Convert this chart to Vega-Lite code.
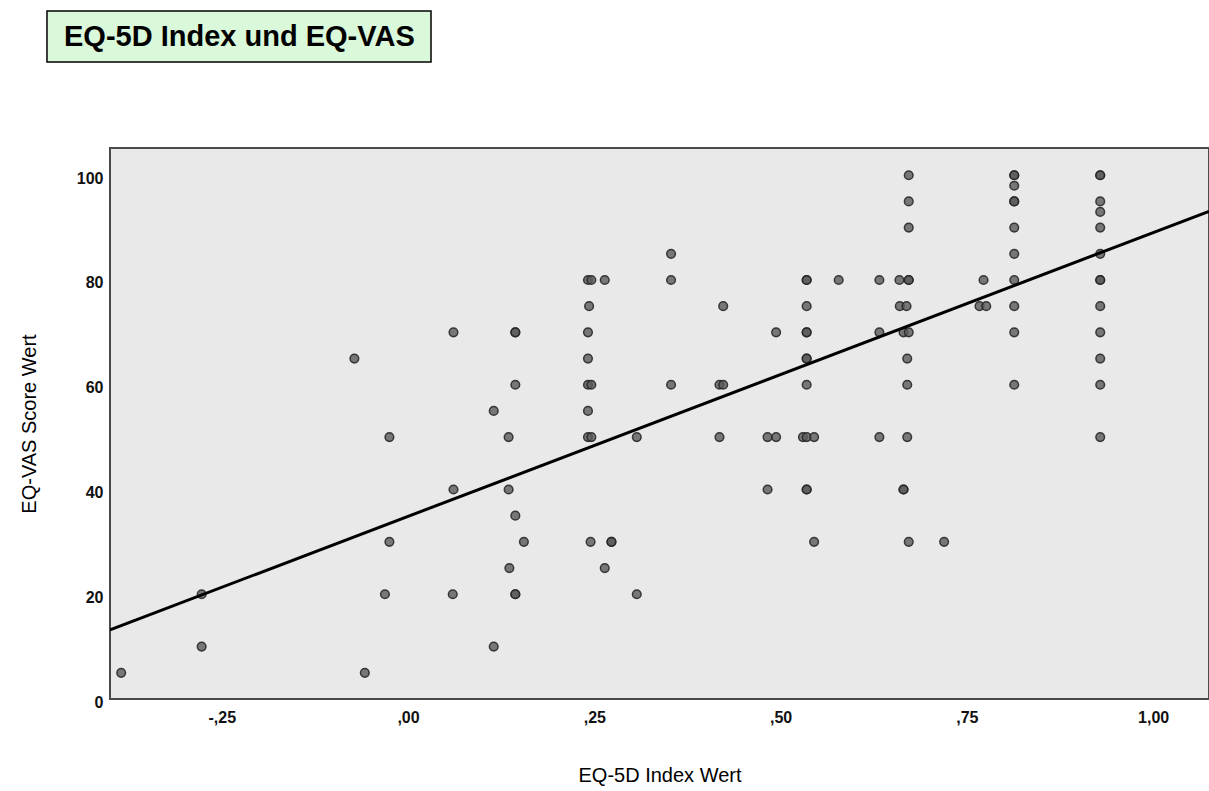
{
  "$schema": "https://vega.github.io/schema/vega-lite/v6.json",
  "background": "white",
  "padding": {"left": 18, "top": 10, "right": 0, "bottom": 0},
  "spacing": 84,
  "config": {"font": "Liberation Sans"},
  "datasets": {
    "titleData": [{"t": "EQ-5D Index und EQ-VAS"}],
    "fit": [{"index": -0.4, "vas": 13.2}, {"index": 1.075, "vas": 93.1}],
    "pts": [
      {"index": -0.385, "vas": 5},
      {"index": -0.277, "vas": 20},
      {"index": -0.277, "vas": 10},
      {"index": -0.072, "vas": 65},
      {"index": -0.058, "vas": 5},
      {"index": -0.025, "vas": 50},
      {"index": -0.025, "vas": 30},
      {"index": -0.031, "vas": 20},
      {"index": 0.061, "vas": 70},
      {"index": 0.061, "vas": 40},
      {"index": 0.060, "vas": 20},
      {"index": 0.115, "vas": 55},
      {"index": 0.115, "vas": 10},
      {"index": 0.135, "vas": 50},
      {"index": 0.135, "vas": 40},
      {"index": 0.136, "vas": 25},
      {"index": 0.144, "vas": 70},
      {"index": 0.144, "vas": 70},
      {"index": 0.144, "vas": 60},
      {"index": 0.144, "vas": 35},
      {"index": 0.144, "vas": 20},
      {"index": 0.144, "vas": 20},
      {"index": 0.1555, "vas": 30},
      {"index": 0.2415, "vas": 80},
      {"index": 0.246, "vas": 80},
      {"index": 0.264, "vas": 80},
      {"index": 0.243, "vas": 75},
      {"index": 0.2415, "vas": 70},
      {"index": 0.2415, "vas": 65},
      {"index": 0.2415, "vas": 60},
      {"index": 0.246, "vas": 60},
      {"index": 0.2415, "vas": 55},
      {"index": 0.2415, "vas": 50},
      {"index": 0.246, "vas": 50},
      {"index": 0.245, "vas": 30},
      {"index": 0.273, "vas": 30},
      {"index": 0.273, "vas": 30},
      {"index": 0.264, "vas": 25},
      {"index": 0.307, "vas": 50},
      {"index": 0.307, "vas": 20},
      {"index": 0.353, "vas": 85},
      {"index": 0.353, "vas": 80},
      {"index": 0.353, "vas": 60},
      {"index": 0.418, "vas": 60},
      {"index": 0.423, "vas": 60},
      {"index": 0.423, "vas": 75},
      {"index": 0.418, "vas": 50},
      {"index": 0.4825, "vas": 50},
      {"index": 0.494, "vas": 50},
      {"index": 0.4825, "vas": 40},
      {"index": 0.494, "vas": 70},
      {"index": 0.535, "vas": 80},
      {"index": 0.535, "vas": 80},
      {"index": 0.535, "vas": 75},
      {"index": 0.535, "vas": 70},
      {"index": 0.535, "vas": 70},
      {"index": 0.535, "vas": 65},
      {"index": 0.535, "vas": 65},
      {"index": 0.535, "vas": 60},
      {"index": 0.530, "vas": 50},
      {"index": 0.535, "vas": 50},
      {"index": 0.545, "vas": 50},
      {"index": 0.535, "vas": 40},
      {"index": 0.535, "vas": 40},
      {"index": 0.545, "vas": 30},
      {"index": 0.578, "vas": 80},
      {"index": 0.6326, "vas": 80},
      {"index": 0.6326, "vas": 70},
      {"index": 0.6326, "vas": 50},
      {"index": 0.672, "vas": 100},
      {"index": 0.672, "vas": 95},
      {"index": 0.672, "vas": 90},
      {"index": 0.6595, "vas": 80},
      {"index": 0.672, "vas": 80},
      {"index": 0.672, "vas": 80},
      {"index": 0.660, "vas": 75},
      {"index": 0.669, "vas": 75},
      {"index": 0.665, "vas": 70},
      {"index": 0.672, "vas": 70},
      {"index": 0.670, "vas": 65},
      {"index": 0.670, "vas": 60},
      {"index": 0.670, "vas": 50},
      {"index": 0.665, "vas": 40},
      {"index": 0.665, "vas": 40},
      {"index": 0.672, "vas": 30},
      {"index": 0.7195, "vas": 30},
      {"index": 0.7724, "vas": 80},
      {"index": 0.767, "vas": 75},
      {"index": 0.776, "vas": 75},
      {"index": 0.8136, "vas": 100},
      {"index": 0.8136, "vas": 100},
      {"index": 0.8136, "vas": 98},
      {"index": 0.8136, "vas": 95},
      {"index": 0.8136, "vas": 95},
      {"index": 0.8136, "vas": 90},
      {"index": 0.8136, "vas": 85},
      {"index": 0.8136, "vas": 80},
      {"index": 0.8136, "vas": 75},
      {"index": 0.8136, "vas": 70},
      {"index": 0.8136, "vas": 60},
      {"index": 0.929, "vas": 100},
      {"index": 0.929, "vas": 100},
      {"index": 0.929, "vas": 95},
      {"index": 0.929, "vas": 93},
      {"index": 0.929, "vas": 90},
      {"index": 0.929, "vas": 85},
      {"index": 0.929, "vas": 80},
      {"index": 0.929, "vas": 80},
      {"index": 0.929, "vas": 75},
      {"index": 0.929, "vas": 70},
      {"index": 0.929, "vas": 65},
      {"index": 0.929, "vas": 60},
      {"index": 0.929, "vas": 50}
    ]
  },
  "vconcat": [
    {
      "width": 321,
      "height": 51,
      "view": {"fill": null, "stroke": null},
      "data": {"name": "titleData"},
      "encoding": {
        "x": {"datum": 0.403, "type": "quantitative", "scale": {"domain": [0, 1], "nice": false, "zero": false}, "axis": null},
        "y": {"datum": 0.5, "type": "quantitative", "scale": {"domain": [0, 1], "nice": false}, "axis": null}
      },
      "layer": [
        {
          "mark": {"type": "rect", "fill": "#daf8da", "stroke": "#000000", "strokeWidth": 1.5, "clip": false},
          "encoding": {
            "x": {"datum": -0.1963, "type": "quantitative"},
            "x2": {"datum": 1},
            "y": {"datum": 0, "type": "quantitative"},
            "y2": {"datum": 1}
          }
        },
        {
          "mark": {"type": "text", "fontSize": 29, "fontWeight": "bold", "font": "Liberation Sans", "color": "#000000", "align": "center", "baseline": "middle"},
          "encoding": {"text": {"field": "t", "type": "nominal"}}
        }
      ]
    },
    {
      "width": 1099,
      "height": 551,
      "view": {"fill": "#e9e9e9", "stroke": "#4a4a4a", "strokeWidth": 2},
      "encoding": {
        "x": {"field": "index", "type": "quantitative",
          "scale": {"domain": [-0.4, 1.075], "nice": false, "zero": false},
          "axis": {"values": [-0.25, 0, 0.25, 0.5, 0.75, 1],
            "labelExpr": "replace(replace(replace(format(datum.value, '.2f'), '.', ','), '0,', ','), '\u2212', '-')",
            "title": "EQ-5D Index Wert", "titleFontSize": 20, "titleFontWeight": "normal", "titleColor": "#000000", "titlePadding": 40,
            "labelFontSize": 16, "labelFontWeight": "bold", "labelColor": "#111111",
            "labelPadding": 10, "ticks": false, "domain": false, "grid": false}},
        "y": {"field": "vas", "type": "quantitative",
          "scale": {"domain": [0, 105.2], "nice": false},
          "axis": {"values": [0, 20, 40, 60, 80, 100],
            "title": "EQ-VAS Score Wert", "titleFontSize": 20, "titleFontWeight": "normal", "titleColor": "#000000", "titlePadding": 37,
            "labelFontSize": 16, "labelFontWeight": "bold", "labelColor": "#111111", "labelOffset": 3,
            "labelPadding": 7, "ticks": false, "domain": false, "grid": false}}
      },
      "layer": [
        {
          "data": {"name": "pts"},
          "mark": {"type": "point", "shape": "circle", "filled": true, "size": 75, "fill": "#5a5a5a", "fillOpacity": 0.8, "stroke": "#222222", "strokeWidth": 1.5, "strokeOpacity": 0.85}
        },
        {
          "data": {"name": "fit"},
          "mark": {"type": "line", "color": "#000000", "strokeWidth": 3, "clip": true}
        }
      ]
    }
  ]
}
